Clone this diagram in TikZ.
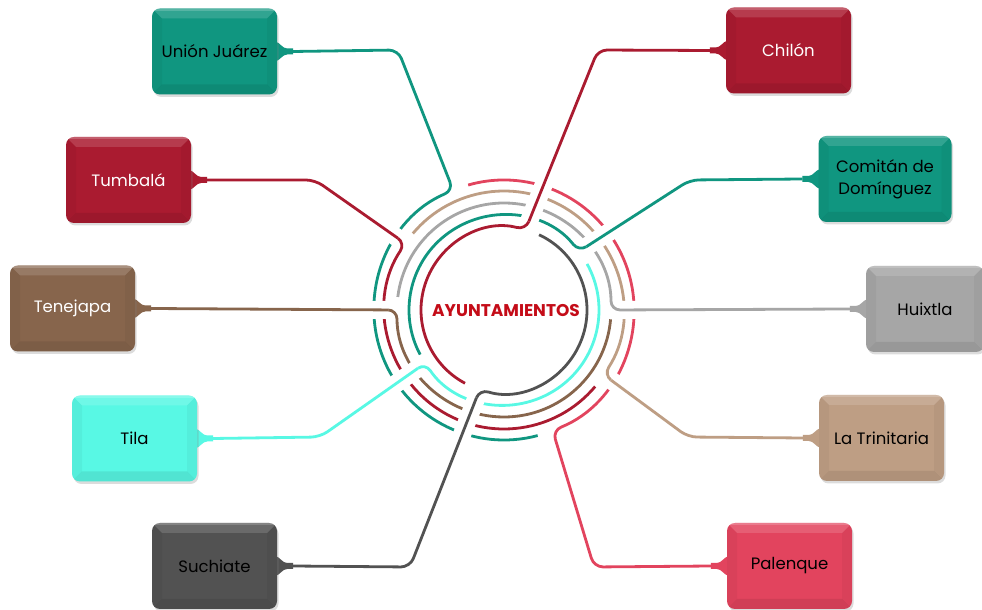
\documentclass[tikz,border=0pt]{standalone}
\usepackage{fontspec}
\setmainfont{Poppins}
\usetikzlibrary{calc}
\usetikzlibrary{shadows}

\definecolor{cteal}{RGB}{16,150,128}
\definecolor{cred}{RGB}{170,27,48}
\definecolor{cbrown}{RGB}{135,101,76}
\definecolor{caqua}{RGB}{88,248,228}
\definecolor{cslate}{RGB}{82,82,82}
\definecolor{csilver}{RGB}{166,166,166}
\definecolor{csand}{RGB}{190,158,132}
\definecolor{crose}{RGB}{226,68,94}
\definecolor{ctitle}{RGB}{196,12,24}

\pgfdeclarelayer{bg}
\pgfsetlayers{bg,main}

\tikzset{
    muni/.style={fill=#1, rounded corners=8, minimum width=125, minimum height=86,
        align=center, font=\fontsize{16.5}{22}\selectfont,
        drop shadow={opacity=.28, shadow xshift=1.5, shadow yshift=-2.5},
        path picture={
            \path (path picture bounding box.north west) coordinate (bnw)
                (path picture bounding box.south east) coordinate (bse);
            \fill[white,opacity=.14,sharp corners] (bnw) -- (bnw -| bse) -- ++(-10,-10)
                -- ($(bnw)+(10,-10)$) -- cycle;
            \fill[white,opacity=.18,sharp corners] (bnw) rectangle ($(bnw -| bse)+(0,-2.5)$);
            \fill[black,opacity=.08,sharp corners] (bse) -- (bse -| bnw) -- ++(10,10)
                -- ($(bse)+(-10,10)$) -- cycle;
            \fill[black,opacity=.04,sharp corners] (bnw) -- ($(bnw)+(10,-10)$)
                -- ($(bse -| bnw)+(10,10)$) -- (bse -| bnw) -- cycle;
            \fill[black,opacity=.04,sharp corners] (bse) -- ($(bse)+(-10,10)$)
                -- ($(bnw -| bse)+(-10,-10)$) -- (bnw -| bse) -- cycle;
        }},
    link/.style={draw=#1, line width=2.8, rounded corners=9},
    halo/.style={draw=white, line width=18, rounded corners=9, shorten >=9},
    neck/.pic={
        \path[pic actions] (-2,10) .. controls (3,9) and (5,3) .. (10,3) -- (16,3)
            -- (16,-3) -- (10,-3) .. controls (5,-3) and (3,-9) .. (-2,-10) -- cycle;
    }
}

\begin{document}
\begin{tikzpicture}[x=1pt,y=1pt]
    \useasboundingbox (0,0) rectangle (982,610);

    % Centre
    \coordinate (C) at (504,300);
    \node [font=\bfseries\fontsize{17}{19}\selectfont, text=ctitle] (hub) at ($(C)+(2,-1)$) {AYUNTAMIENTOS};

    % Boxes
    \node [muni=cteal] (uj) at (214.5,558.5) {Unión Juárez};
    \node [muni=cred, text=white] (tu) at (128.5,430) {Tumbalá};
    \node [muni=cbrown, text=white] (te) at (72.5,301.5) {Tenejapa};
    \node [muni=caqua] (ti) at (134.5,171.5) {Tila};
    \node [muni=cslate] (su) at (214.5,44) {Suchiate};
    \node [muni=cred, text=white] (ch) at (788.5,559.5) {Chilón};
    \node [muni=cteal, minimum width=133] (co) at (885,431) {Comitán de\\Domínguez};
    \node [muni=csilver, minimum width=118] (hu) at (925,301) {Huixtla};
    \node [muni=csand] (lt) at (881.5,172) {La Trinitaria};
    \node [muni=crose] (pa) at (789.5,44) {Palenque};

    % Tab tips
    \coordinate (ujt) at ([xshift=16]uj.east);
    \coordinate (tut) at ([xshift=16]tu.east);
    \coordinate (tet) at ([xshift=16]te.east);
    \coordinate (tit) at ([xshift=16]ti.east);
    \coordinate (sut) at ([xshift=16]su.east);
    \coordinate (cht) at ([xshift=-16]ch.west);
    \coordinate (cot) at ([xshift=-16]co.west);
    \coordinate (hut) at ([xshift=-16]hu.west);
    \coordinate (ltt) at ([xshift=-16]lt.west);
    \coordinate (pat) at ([xshift=-16]pa.west);

    % Where each line meets its ring
    \coordinate (uj5) at ($(C)+(113:130)$);
    \coordinate (tu4) at ($(C)+(146:119)$);
    \coordinate (te3) at ($(C)+(180:107)$);
    \coordinate (ti2) at ($(C)+(214:95)$);
    \coordinate (su1) at ($(C)+(253:83)$);
    \coordinate (ch1) at ($(C)+(75:83)$);
    \coordinate (co2) at ($(C)+(38:95)$);
    \coordinate (hu3) at ($(C)+(0:107)$);
    \coordinate (lt4) at ($(C)+(327:119)$);
    \coordinate (pa5) at ($(C)+(292:130)$);

    \begin{pgfonlayer}{bg}
        % Lines and rings
        \draw [link=cteal] (ujt) -- (398,560) -- (uj5) arc[start angle=113, end angle=285, radius=130];
        \draw [link=cred] (tut) -- (315,430) -- (tu4) arc[start angle=146, end angle=320, radius=119];
        \draw [link=cbrown] (tet) -- (te3) arc[start angle=180, end angle=355, radius=107];
        \draw [link=caqua] (tit) -- (320,173) -- (ti2) arc[start angle=214, end angle=389, radius=95];
        \draw [link=cslate] (sut) -- (410,43) -- (su1) arc[start angle=-107, end angle=65, radius=83];
        \draw [link=cred] (cht) -- (598,560) -- (ch1) arc[start angle=75, end angle=242, radius=83];
        \draw [link=cteal] (cot) -- (690,430) -- (co2) arc[start angle=38, end angle=208, radius=95];
        \draw [link=csilver] (hut) -- (hu3) arc[start angle=0, end angle=173, radius=107];
        \draw [link=csand] (ltt) -- (688,173) -- (lt4) arc[start angle=-33, end angle=140, radius=119];
        \draw [link=crose] (pat) -- (594,43) -- (pa5) arc[start angle=-68, end angle=106, radius=130];

        % Lines cutting through the outer rings
        \draw [halo] (tut) -- (315,430) -- (tu4);
        \draw [link=cred, shorten >=9] (tut) -- (315,430) -- (tu4);
        \draw [halo] (tet) -- (te3);
        \draw [link=cbrown, shorten >=9] (tet) -- (te3);
        \draw [halo] (tit) -- (320,173) -- (ti2);
        \draw [link=caqua, shorten >=9] (tit) -- (320,173) -- (ti2);
        \draw [halo] (sut) -- (410,43) -- (su1);
        \draw [link=cslate, shorten >=9] (sut) -- (410,43) -- (su1);
        \draw [halo] (cht) -- (598,560) -- (ch1);
        \draw [link=cred, shorten >=9] (cht) -- (598,560) -- (ch1);
        \draw [halo] (cot) -- (690,430) -- (co2);
        \draw [link=cteal, shorten >=9] (cot) -- (690,430) -- (co2);
        \draw [halo] (hut) -- (hu3);
        \draw [link=csilver, shorten >=9] (hut) -- (hu3);
        \draw [halo] (ltt) -- (688,173) -- (lt4);
        \draw [link=csand, shorten >=9] (ltt) -- (688,173) -- (lt4);

        % Tabs
        \pic [fill=cteal] at (uj.east) {neck};
        \pic [fill=cred] at (tu.east) {neck};
        \pic [fill=cbrown] at (te.east) {neck};
        \pic [fill=caqua] at (ti.east) {neck};
        \pic [fill=cslate] at (su.east) {neck};
        \pic [fill=cred, xscale=-1] at (ch.west) {neck};
        \pic [fill=cteal, xscale=-1] at (co.west) {neck};
        \pic [fill=csilver, xscale=-1] at (hu.west) {neck};
        \pic [fill=csand, xscale=-1] at (lt.west) {neck};
        \pic [fill=crose, xscale=-1] at (pa.west) {neck};
    \end{pgfonlayer}
\end{tikzpicture}
\end{document}
